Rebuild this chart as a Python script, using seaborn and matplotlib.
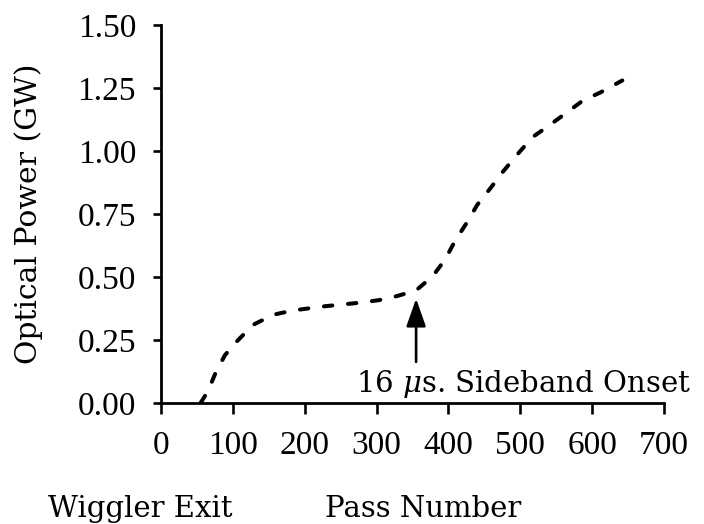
import matplotlib
matplotlib.use("Agg")
import matplotlib.pyplot as plt
import seaborn as sns
import pandas as pd

# Optical power growth along the oscillator passes
pass_number = [55, 65, 76, 89, 104, 128, 156, 183, 228, 273, 303, 328, 355,
               378, 395, 410, 425, 440, 460, 475, 497, 517, 537, 562, 587,
               612, 642]
optical_power_gw = [0.0, 0.045, 0.12, 0.19, 0.24, 0.31, 0.35, 0.367, 0.384,
                    0.397, 0.408, 0.424, 0.447, 0.503, 0.568, 0.647, 0.713,
                    0.786, 0.858, 0.915, 0.99, 1.055, 1.095, 1.147, 1.2,
                    1.233, 1.28]

x_ticks = [0, 100, 200, 300, 400, 500, 600, 700]
y_ticks = [0.00, 0.25, 0.50, 0.75, 1.00, 1.25, 1.50]

onset_pass = 355
onset_tip = 0.414
onset_tail = 0.163
onset_label = "16 $\\mu$s. Sideband Onset"

sns.set_theme(style="white")
plt.rcParams["font.family"] = ["DejaVu Serif"]
plt.rcParams["mathtext.fontset"] = "dejavuserif"

fig = plt.figure(figsize=(7.04, 5.24), dpi=100)
ax = fig.add_axes([0.2287, 0.2309, 0.9432 - 0.2287, 0.9523 - 0.2309])

df = pd.DataFrame({"pass": pass_number, "power": optical_power_gw})
sns.lineplot(data=df, x="pass", y="power", ax=ax, color="black",
             linewidth=2.9, estimator=None, sort=False)
line = ax.lines[0]
line.set_dashes((2.1, 3.9))
line.set_dash_capstyle("round")

ax.set_xlim(0, 700)
ax.set_ylim(0, 1.5)
ax.set_xticks(x_ticks)
ax.set_yticks(y_ticks)
ax.set_xticklabels([str(v) for v in x_ticks])
ax.set_yticklabels([f"{v:.2f}" for v in y_ticks])

for side in ("top", "right"):
    ax.spines[side].set_visible(False)
for side in ("left", "bottom"):
    ax.spines[side].set_color("black")
    ax.spines[side].set_linewidth(2.0)

for lab in ax.get_xticklabels() + ax.get_yticklabels():
    lab.set_fontfamily("Liberation Serif")
    lab.set_fontsize(24)
    lab.set_color("black")
ax.tick_params(axis="both", direction="out", color="black", width=1.9,
               bottom=True, left=True)
ax.tick_params(axis="x", length=8, pad=12)
ax.tick_params(axis="y", length=6, pad=12)

ax.set_xlabel("")
ax.set_ylabel("Optical Power (GW)", fontsize=21.5, color="black", labelpad=25)

fig.text(48 / 704, 1 - 517 / 524, "Wiggler Exit", fontsize=21,
         ha="left", va="baseline", color="black")
fig.text(325 / 704, 1 - 517 / 524, "Pass Number", fontsize=21,
         ha="left", va="baseline", color="black")

ax.annotate("", xy=(onset_pass, onset_tip), xytext=(onset_pass, onset_tail),
            arrowprops=dict(arrowstyle="-|>,head_length=0.85,head_width=0.3",
                            mutation_scale=20, color="black", lw=1.9,
                            shrinkA=0, shrinkB=0))
ax.text(272, 0.045, onset_label, fontsize=21, ha="left", va="baseline",
        color="black", clip_on=False)

fig.savefig("out.png", dpi=100)
